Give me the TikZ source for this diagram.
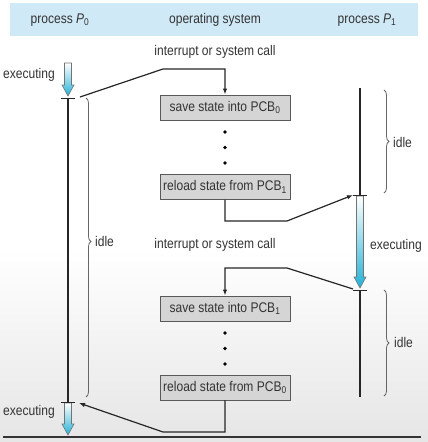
\documentclass[tikz,border=0pt]{standalone}
\usepackage{fontspec}
\setmainfont{Liberation Sans}[FakeStretch=0.86]
\usetikzlibrary{arrows.meta,decorations.pathreplacing}
\definecolor{hdr}{HTML}{CFE9F6}
\definecolor{boxfill}{HTML}{D5D5D5}
\definecolor{txt}{HTML}{333333}
\definecolor{cyanarr}{HTML}{22B2D8}
\tikzset{
  lbl/.style={text=txt, inner sep=0pt},
  osbox/.style={draw=black!65, fill=boxfill, line width=0.9pt, minimum width=130pt, minimum height=25pt, inner sep=0pt, text=txt},
  dotnode/.style={circle, fill=black, inner sep=0pt, minimum size=3.6pt},
  conn/.style={line width=1.2pt, black!85, -{Latex[length=6pt,width=4.5pt]}},
  pline/.style={line width=2.4pt, black!85},
  tickmark/.style={line width=1pt, black!85},
  bracestyle/.style={decorate, decoration={brace, amplitude=5pt, aspect=#1}, line width=0.8pt, black!60},
  hollow/.style={top color=white, bottom color=cyanarr, draw=black!55, line width=0.6pt}
}
\newcommand\hollowarr[3]{% x, ytop, ytip
  \shade[hollow] (#1-3.5,#2) -- (#1+3.5,#2) -- (#1+3.5,#3-11) -- (#1+6,#3-11) -- (#1,#3) -- (#1-6,#3-11) -- (#1-3.5,#3-11) -- cycle;
}
\begin{document}
\begin{tikzpicture}[x=1pt,y=-1pt, font=\fontsize{14}{16}\selectfont]
\useasboundingbox (0,0) rectangle (428,442);
\fill[white] (0,0) rectangle (428,442);
\shade[top color=white, bottom color=black!10] (0,250) rectangle (428,442);

% header
\fill[hdr] (10,3) rectangle (418,36);
\node[lbl] (h0) at (60,20) {process \textit{P}\textsubscript{0}};
\node[lbl] (hos) at (215,20) {operating system};
\node[lbl] (h1) at (367,20) {process \textit{P}\textsubscript{1}};

% OS boxes
\node[osbox] (s0) at (225,107.5) {save state into PCB\textsubscript{0}};
\node[osbox] (r1) at (225,187) {reload state from PCB\textsubscript{1}};
\node[osbox] (s1) at (225,308.5) {save state into PCB\textsubscript{1}};
\node[osbox] (r0) at (225,387.5) {reload state from PCB\textsubscript{0}};

\node[dotnode] (d1) at (225,132) {};
\node[dotnode] (d2) at (225,147.5) {};
\node[dotnode] (d3) at (225,163) {};
\node[dotnode] (d4) at (225,333) {};
\node[dotnode] (d5) at (225,348.5) {};
\node[dotnode] (d6) at (225,364) {};

% labels
\node[lbl] (int1) at (215,52) {interrupt or system call};
\node[lbl] (int2) at (215,245) {interrupt or system call};
\node[lbl] (ex1) at (29,75) {executing};
\node[lbl] (ex2) at (29,412) {executing};
\node[lbl] (ex3) at (396,246) {executing};

% process timelines
\coordinate (t0a) at (68,98);
\coordinate (t0b) at (68,402);
\coordinate (t1a) at (360,195);
\coordinate (t1b) at (360,290);
\coordinate (p1top) at (360,88);
\coordinate (p1bot) at (360,397);

\draw[pline] (t0a) -- (t0b);
\draw[pline] (p1top) -- (t1a);
\draw[pline] (t1b) -- (p1bot);

\hollowarr{68}{63}{96}
\hollowarr{360}{196}{288}
\hollowarr{68}{403}{435}

\draw[tickmark] (t0a) ++(-7,0) -- ++(14,0);
\draw[tickmark] (t0b) ++(-7,0) -- ++(14,0);
\draw[tickmark] (t1a) ++(-7,0) -- ++(14,0);
\draw[tickmark] (t1b) ++(-7,0) -- ++(14,0);

% braces
\draw[bracestyle=0.48] (86,98) -- (86,397);
\node[lbl, anchor=west] (idle0) at (95,241) {idle};
\draw[bracestyle=0.5] (384,90) -- (384,193);
\node[lbl, anchor=west] (idle1) at (393,142) {idle};
\draw[bracestyle=0.5] (384,290) -- (384,396);
\node[lbl, anchor=west] (idle2) at (394,342) {idle};

% connectors
\coordinate (c1s) at (80,97);
\coordinate (c1k) at (163,69);
\draw[conn] (c1s) -- (c1k) -| (s0.north);

\coordinate (c2k) at (287,221);
\coordinate (c2e) at (353,195);
\draw[conn] (r1.south) |- (c2k) -- (c2e);

\coordinate (c3s) at (353,289);
\coordinate (c3k) at (287,268);
\draw[conn] (c3s) -- (c3k) -| (s1.north);

\coordinate (c4k) at (163,432);
\coordinate (c4e) at (79,403);
\draw[conn] (r0.south) |- (c4k) -- (c4e);

% bottom line
\coordinate (bl) at (3,437);
\coordinate (br) at (421,437);
\draw[line width=1.3pt, black!80] (bl) -- (br);
\end{tikzpicture}
\end{document}
